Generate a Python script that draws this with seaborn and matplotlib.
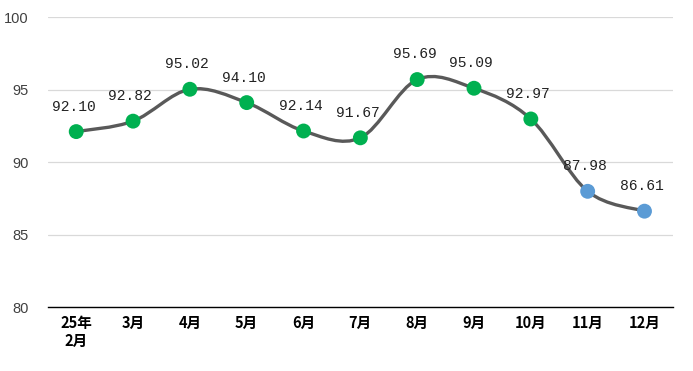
import numpy as np
import pandas as pd
import seaborn as sns
import matplotlib.pyplot as plt
from matplotlib.path import Path
from matplotlib.patches import PathPatch

months = ["25年\n2月", "3月", "4月", "5月", "6月", "7月", "8月", "9月", "10月", "11月", "12月"]
values = [92.10, 92.82, 95.02, 94.10, 92.14, 91.67, 95.69, 95.09, 92.97, 87.98, 86.61]
groups = ["g"] * 9 + ["b"] * 2
palette = {"g": "#00b050", "b": "#5b9bd5"}

df = pd.DataFrame({"month": months, "value": values, "grp": groups})
df["pos"] = np.arange(len(df))

sns.set_style("white")
plt.rcParams['font.family'] = ['Liberation Sans', 'Noto Sans CJK SC', 'DejaVu Sans']

fig = plt.figure(figsize=(6.93, 3.71), dpi=100)
ax = fig.add_axes([0.069, 0.1725, 0.902, 0.7815])

# smoothed line (bezier through points, like spreadsheet smoothing)
pts = df[["pos", "value"]].to_numpy(dtype=float)
verts = [tuple(pts[0])]
codes = [Path.MOVETO]
n = len(pts)
for i in range(n - 1):
    p0 = pts[max(i - 1, 0)]
    p1 = pts[i]
    p2 = pts[i + 1]
    p3 = pts[min(i + 2, n - 1)]
    c1 = p1 + (p2 - p0) / 6
    c2 = p2 - (p3 - p1) / 6
    verts += [tuple(c1), tuple(c2), tuple(p2)]
    codes += [Path.CURVE4] * 3
ax.add_patch(PathPatch(Path(verts, codes), fill=False, edgecolor="#595959", lw=2.4, zorder=2,
                       capstyle="round"))

sns.scatterplot(data=df, x="pos", y="value", hue="grp", palette=palette, s=115,
                edgecolor="none", legend=False, ax=ax, zorder=3)

for x, y in zip(df["pos"], df["value"]):
    ax.annotate(f"{y:.2f}", (x, y), xytext=(-2, 13), textcoords="offset points",
                ha="center", va="bottom", fontsize=10.5, family=["Liberation Mono"], color="#222222")

ax.set_xlim(-0.5, len(df) - 0.5)
ax.set_ylim(80, 100)
ax.set_yticks([80, 85, 90, 95, 100])
ax.set_xticks(df["pos"])
ax.set_xticklabels(df["month"], fontsize=10.5, fontweight="bold",
                   family=["Noto Sans CJK SC", "DejaVu Sans"], linespacing=1.1)
ax.tick_params(axis="y", labelsize=10.5, colors="#404040", length=0, pad=14)
ax.tick_params(axis="x", length=0, pad=6, colors="black")
ax.yaxis.grid(True, color="#d9d9d9", lw=0.9)
ax.set_axisbelow(True)
for s in ["top", "right", "left"]:
    ax.spines[s].set_visible(False)
ax.spines["bottom"].set_color("black")
ax.spines["bottom"].set_linewidth(1.0)
ax.set_xlabel("")
ax.set_ylabel("")

fig.savefig("out.png", dpi=100)
